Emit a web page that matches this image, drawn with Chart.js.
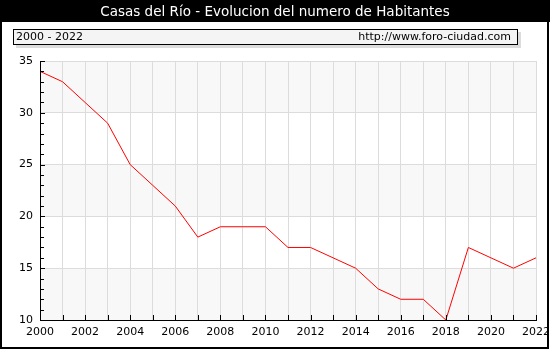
<!DOCTYPE html>
<html>
<head>
<meta charset="utf-8">
<script src="https://cdn.jsdelivr.net/npm/chart.js@4/dist/chart.umd.min.js"></script>
<style>
  html, body { margin: 0; padding: 0; background: #fff; }
  #wrap { width: 550px; height: 350px; }
</style>
</head>
<body>
<div id="wrap"><canvas id="grafico" width="550" height="350"></canvas></div>
<script>
// habitantes por año
const anios = ['2000','2001','2002','2003','2004','2005','2006','2007','2008','2009','2010','2011',
               '2012','2013','2014','2015','2016','2017','2018','2019','2020','2021','2022'];
const habitantes = [34, 33, 31, 29, 25, 23, 21, 18, 19, 19, 19, 17, 17, 16, 15, 13, 12, 12, 10, 17, 16, 15, 16];
const titulo = 'Casas del Río - Evolucion del numero de Habitantes';
const periodo = '2000 - 2022';
const web = 'http://www.foro-ciudad.com';

const fuente = 'DejaVu Sans, Verdana, sans-serif';

// cabecera negra, recuadro del periodo y franjas del fondo
const decorado = {
    id: 'decorado',
    beforeDraw(chart) {
        const ctx = chart.ctx;
        const a = chart.chartArea;
        const y = chart.scales.y;
        ctx.save();
        ctx.fillStyle = '#000';
        ctx.fillRect(0, 0, 550, 22);
        ctx.fillStyle = '#fff';
        ctx.font = '13.5px ' + fuente;
        ctx.textAlign = 'center';
        ctx.textBaseline = 'middle';
        ctx.fillText(titulo, 275, 12);

        // recuadro con sombra
        ctx.fillStyle = '#dcdcdc';
        ctx.fillRect(16, 32, 505, 16);
        ctx.fillStyle = '#f4f4f4';
        ctx.fillRect(13, 29, 505, 16);
        ctx.strokeStyle = '#000';
        ctx.lineWidth = 1;
        ctx.strokeRect(13.5, 29.5, 504, 15);
        ctx.fillStyle = '#000';
        ctx.font = '11px ' + fuente;
        ctx.textAlign = 'left';
        ctx.fillText(periodo, 16, 37.5);
        ctx.textAlign = 'right';
        ctx.fillText(web, 511, 37.5);

        // franjas alternas
        for (let v = 10; v < 35; v += 5) {
            if ((v / 5) % 2 === 0) {
                const top = y.getPixelForValue(v + 5);
                const bot = y.getPixelForValue(v);
                ctx.fillStyle = '#f8f8f8';
                ctx.fillRect(a.left, top, a.right - a.left, bot - top);
            }
        }
        ctx.restore();
    },
    afterDraw(chart) {
        const ctx = chart.ctx;
        const a = chart.chartArea;
        const x = chart.scales.x;
        const y = chart.scales.y;
        ctx.save();
        ctx.strokeStyle = '#000';
        ctx.lineWidth = 1;
        ctx.beginPath();
        // marcas hacia dentro
        for (let v = 10; v <= 35; v++) {
            const py = Math.round(y.getPixelForValue(v)) + 0.5;
            const largo = v % 5 === 0 ? 5 : 4;
            ctx.moveTo(a.left, py);
            ctx.lineTo(a.left + largo, py);
        }
        for (let i = 0; i < anios.length; i++) {
            const px = Math.round(x.getPixelForValue(i)) + 0.5;
            ctx.moveTo(px, a.bottom);
            ctx.lineTo(px, a.bottom - 5);
        }
        ctx.stroke();
        // marco exterior
        ctx.lineWidth = 2;
        ctx.strokeRect(1, 1, 547, 347);
        ctx.restore();
    }
};

new Chart(document.getElementById('grafico'), {
    type: 'line',
    data: {
        labels: anios,
        datasets: [{
            data: habitantes,
            borderColor: '#ff0000',
            borderWidth: 1,
            pointRadius: 0,
            tension: 0,
            fill: false
        }]
    },
    options: {
        responsive: false,
        animation: false,
        layout: { padding: { top: 61, right: 14, left: 0, bottom: 0 } },
        plugins: { legend: { display: false }, tooltip: { enabled: false } },
        scales: {
            x: {
                afterFit(scale) {
                    scale.height = 30;
                    scale.paddingLeft = 0;
                    scale.paddingRight = 0;
                },
                grid: { color: '#dcdcdc', drawTicks: false },
                border: { color: '#000', width: 1 },
                ticks: {
                    autoSkip: false,
                    maxRotation: 0,
                    padding: 6,
                    color: '#000',
                    font: { family: fuente, size: 11 },
                    callback: (val, i) => (i % 2 === 0 ? anios[i] : '')
                }
            },
            y: {
                min: 10,
                max: 35,
                afterFit(scale) {
                    scale.width = 40;
                    scale.paddingTop = 0;
                    scale.paddingBottom = 0;
                },
                grid: { color: '#dcdcdc', drawTicks: false },
                border: { color: '#000', width: 1 },
                ticks: {
                    stepSize: 5,
                    padding: 7,
                    color: '#000',
                    font: { family: fuente, size: 11 }
                }
            }
        }
    },
    plugins: [decorado]
});
</script>
</body>
</html>
